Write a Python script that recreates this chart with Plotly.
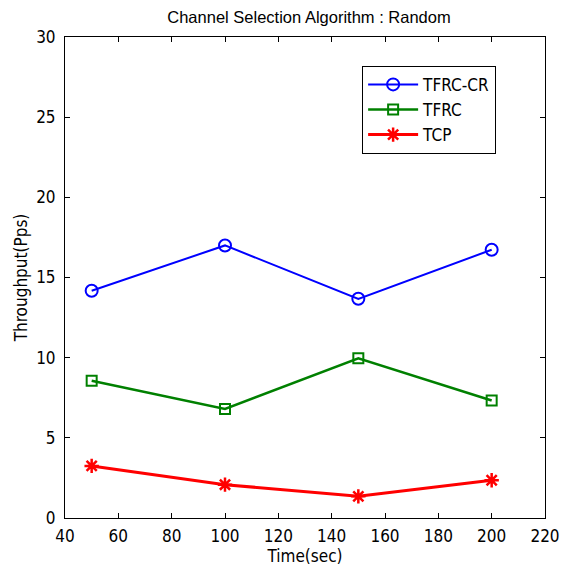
import plotly.graph_objects as go

time_sec = [50, 100, 150, 200]
tfrc_cr = [14.17, 17.0, 13.67, 16.73]
tfrc = [8.56, 6.8, 9.96, 7.33]
tcp = [3.25, 2.08, 1.35, 2.35]

x_ticks = [40, 60, 80, 100, 120, 140, 160, 180, 200, 220]
y_ticks = [0, 5, 10, 15, 20, 25, 30]

NARROW = "Liberation Sans Narrow, DejaVu Sans Condensed, Arial Narrow, sans-serif"

fig = go.Figure()
fig.add_trace(go.Scatter(x=time_sec, y=tfrc_cr, name="TFRC-CR", mode="lines+markers",
                         line=dict(color="#0000ff", width=2),
                         marker=dict(symbol="circle-open", size=12, color="#0000ff", line=dict(width=2))))
fig.add_trace(go.Scatter(x=time_sec, y=tfrc, name="TFRC", mode="lines+markers",
                         line=dict(color="#008000", width=2.5),
                         marker=dict(symbol="square-open", size=10, color="#008000", line=dict(width=2))))
fig.add_trace(go.Scatter(x=time_sec, y=tcp, name="TCP", mode="lines+markers",
                         line=dict(color="#ff0000", width=3),
                         marker=dict(symbol="asterisk-open", size=12, color="#ff0000", line=dict(width=2.5))))

axis_common = dict(showline=True, linecolor="black", linewidth=1, mirror="ticks",
                   ticks="inside", ticklen=5, tickcolor="black", showgrid=False,
                   zeroline=False, automargin=False,
                   tickfont=dict(size=17, color="black", family=NARROW))

W, H = 562, 563
fig.update_layout(
    width=W, height=H,
    margin=dict(l=57, r=25, t=29, b=53, autoexpand=False),
    paper_bgcolor="white", plot_bgcolor="white",
    font=dict(family=NARROW, size=17, color="black"),
    title=dict(text="Channel Selection Algorithm : Random", x=0.5 + 20 / W, xanchor="center",
               y=1 - 3 / H, yanchor="top", pad=dict(t=0, b=0),
               font=dict(size=16.5, family="Liberation Sans, Arial, sans-serif")),
    xaxis=dict(range=[40, 220], tickvals=x_ticks, ticklabelstandoff=3,
               title=dict(text="Time(sec)", standoff=4, font=dict(size=17)), **axis_common),
    yaxis=dict(range=[0, 30], tickvals=y_ticks, ticklabelstandoff=5,
               title=dict(text="Throughput(Pps)", standoff=4, font=dict(size=17)), **axis_common),
    legend=dict(x=0.619, y=0.94, xanchor="left", yanchor="top", bgcolor="white",
                bordercolor="black", borderwidth=1, font=dict(size=17, family=NARROW),
                tracegroupgap=0, itemwidth=50),
    showlegend=True,
)

fig.write_html("out.html")
